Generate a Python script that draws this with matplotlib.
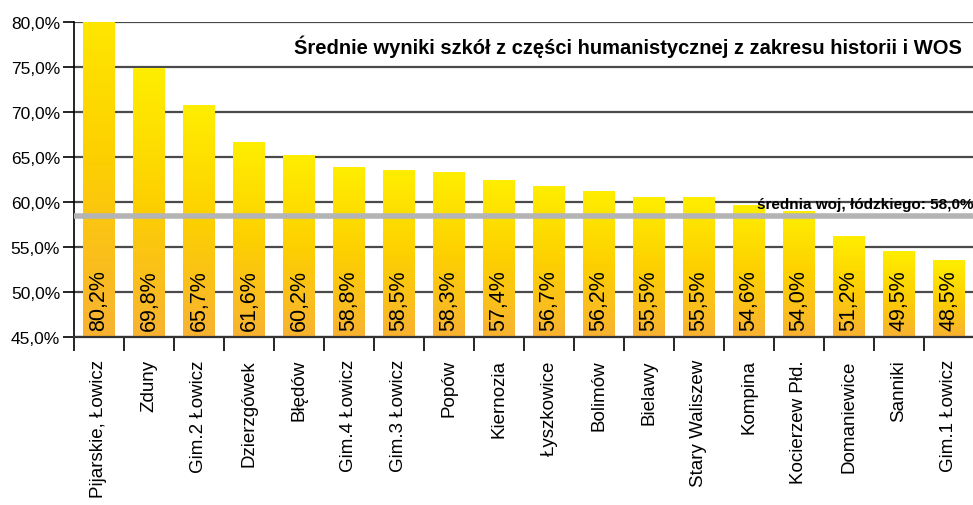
import matplotlib
matplotlib.use("Agg")
import matplotlib.pyplot as plt
import numpy as np
from matplotlib.colors import LinearSegmentedColormap
from matplotlib.ticker import FuncFormatter

plt.rcParams['font.family'] = ['Liberation Sans', 'DejaVu Sans']

schools = ["Pijarskie, Łowicz", "Zduny", "Gim.2 Łowicz", "Dzierzgówek", "Błędów",
           "Gim.4 Łowicz", "Gim.3 Łowicz", "Popów", "Kiernozia", "Łyszkowice",
           "Bolimów", "Bielawy", "Stary Waliszew", "Kompina", "Kocierzew Płd.",
           "Domaniewice", "Sanniki", "Gim.1 Łowicz"]
scores = [80.2, 69.8, 65.7, 61.6, 60.2, 58.8, 58.5, 58.3, 57.4, 56.7,
          56.2, 55.5, 55.5, 54.6, 54.0, 51.2, 49.5, 48.5]
# the original chart draws the bars 5 points above the printed value
bar_shift = 5.0
avg_value = 58.0
avg_line = 58.5   # where the average line actually sits on the axis
title = "Średnie wyniki szkół z części humanistycznej z zakresu historii i WOS"

heights = [s + bar_shift for s in scores]
ymin, ymax = 45, 80

fig = plt.figure(figsize=(9.73, 5.06), dpi=100)
ax = fig.add_axes([0.076, 0.332, 0.925, 0.6225])

x = np.arange(len(schools))
bars = ax.bar(x, [h - ymin for h in heights], bottom=ymin, width=0.62,
              color='none', edgecolor='none', zorder=2)

# vertical gradient, yellow on top to orange at the base
cmap = LinearSegmentedColormap.from_list("yo", ["#F8B232", "#FDD000", "#FFEE00"])
grad = np.linspace(0, 1, 256).reshape(-1, 1)
for b in bars:
    x0 = b.get_x()
    w = b.get_width()
    ax.imshow(grad, cmap=cmap, origin='lower', aspect='auto',
              extent=[x0, x0 + w, ymin, b.get_y() + b.get_height()], zorder=2)

for i, s in enumerate(scores):
    ax.text(x[i], ymin + 0.8, f"{s:.1f}%".replace('.', ','), rotation=90,
            ha='center', va='bottom', fontsize=15.5, color='black', zorder=4)

ax.axhline(avg_line, color='#B4B4B4', lw=4, zorder=3)
ax.text(0.999, avg_line + 0.5, f"średnia woj. łódzkiego: {avg_value:.1f}%".replace('.', ','),
        transform=ax.get_yaxis_transform(), ha='right', va='bottom',
        fontsize=11, fontweight='bold', zorder=4)

ax.text(0.987, 0.924, title, transform=ax.transAxes, ha='right', va='center',
        fontsize=14.5, fontweight='bold', zorder=4)

ax.set_xlim(-0.5, len(schools) - 0.5)
ax.set_ylim(ymin, ymax)
ax.set_yticks(np.arange(45, 81, 5))
ax.yaxis.set_major_formatter(FuncFormatter(lambda v, p: f"{v:.1f}%".replace('.', ',')))
ax.yaxis.grid(True, color='#4a4a4a', lw=1.6, zorder=0)
ax.set_axisbelow(True)

ax.set_xticks(x)
ax.set_xticklabels(schools, rotation=90, fontsize=13.5)
ax.set_xticks(np.arange(-0.5, len(schools), 1), minor=True)
ax.tick_params(axis='x', which='major', length=0, pad=16)
ax.tick_params(axis='x', which='minor', length=10, width=1.2, direction='out')
ax.tick_params(axis='y', length=8, width=1.2, labelsize=12.5, pad=2)

for side in ['top', 'right']:
    ax.spines[side].set_visible(False)
ax.spines['left'].set_linewidth(1.2)
ax.spines['bottom'].set_linewidth(1.6)
ax.spines['bottom'].set_color('#333333')

fig.savefig("out.png", dpi=100)
